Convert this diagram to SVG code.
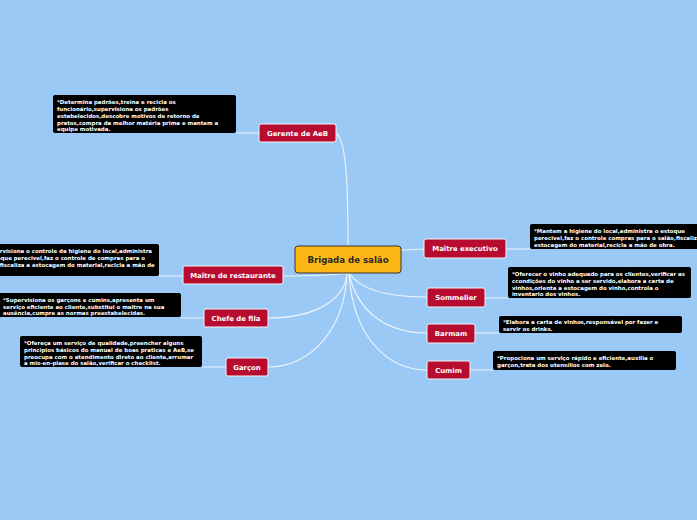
<svg xmlns="http://www.w3.org/2000/svg" width="697" height="520" viewBox="0 0 697 520">
<style>
.node rect{fill:#b70c30;stroke:#f4f4f4;stroke-width:1}
.node text{fill:#fff;font-family:"DejaVu Sans",Verdana,sans-serif;font-weight:bold;font-size:6.9px;text-anchor:middle}
.note rect{fill:#000}
.note text{fill:#fff;font-family:"DejaVu Sans",Verdana,sans-serif;font-weight:bold;font-size:5.45px}
.conn path{fill:none;stroke:#e9f3fc;stroke-width:1.2}
.conn .thin{stroke-width:1}
</style>
<rect width="697" height="520" fill="#9bc9f5"/>
<g class="conn">
<path d="M336,133 C346,140 348,180 348,246"/>
<path d="M401,250 L424,249"/>
<path d="M283,276 C310,276 330,276 347,273"/>
<path d="M347,273 C345,300 315,318 268,318"/>
<path d="M347,273 C345,330 310,367 268,367"/>
<path d="M349,273 C360,290 390,297 427,297"/>
<path d="M349,273 C358,315 390,333 427,333"/>
<path d="M349,273 C353,340 390,370 427,370"/>
<path class="thin" d="M236,133 L259,133"/>
<path class="thin" d="M159,276 L183,276"/>
<path class="thin" d="M181,318 L204,318"/>
<path class="thin" d="M202,367 L226,367"/>
<path class="thin" d="M506,249 L530,249"/>
<path class="thin" d="M485,298 L508,298"/>
<path class="thin" d="M475,333 L499,333"/>
<path class="thin" d="M470,370 L493,370"/>
</g>
<g id="central">
<rect x="295" y="246" width="106" height="27" rx="3" fill="#fdb714" stroke="#333" stroke-width="1"/>
<text x="348" y="263.2" font-family="DejaVu Sans,Verdana,sans-serif" font-weight="bold" font-size="8.6" fill="#2a2a2a" text-anchor="middle">Brigada de salão</text>
</g>
<g id="gerente" class="node"><rect x="259" y="124" width="77" height="18" rx="2"/><text x="297.5" y="135.5">Gerente de AeB</text></g>
<g id="maitre-rest" class="node"><rect x="183" y="266" width="100" height="18" rx="2"/><text x="233" y="277.5">Maître de restaurante</text></g>
<g id="chefe" class="node"><rect x="204" y="309" width="64" height="18" rx="2"/><text x="236" y="320.5">Chefe de fila</text></g>
<g id="garcon" class="node"><rect x="226" y="358" width="42" height="18" rx="2"/><text x="247" y="369.5">Garçon</text></g>
<g id="maitre-exec" class="node"><rect x="424" y="239" width="82" height="19" rx="2"/><text x="465" y="251">Maître executivo</text></g>
<g id="sommelier" class="node"><rect x="427" y="288" width="58" height="19" rx="2"/><text x="456" y="300">Sommelier</text></g>
<g id="barmam" class="node"><rect x="427" y="324" width="48" height="19" rx="2"/><text x="451" y="336">Barmam</text></g>
<g id="cumim" class="node"><rect x="427" y="361" width="43" height="18" rx="2"/><text x="448.5" y="372.5">Cumim</text></g>
<g id="note-gerente" class="note"><rect x="53" y="95" width="183" height="38" rx="2"/>
<text x="57" y="103.5">*Determina padrões,treina e recicla os</text>
<text x="57" y="110.5">funcionário,supervisiona os padrões</text>
<text x="57" y="117.5">estabelecidos,descobre motivos de retorno de</text>
<text x="57" y="124.5">pratos,compra da melhor matéria prima e mantem a</text>
<text x="57" y="131">equipe motivada.</text></g>
<g id="note-maitre-rest" class="note"><rect x="-30" y="244" width="189" height="32" rx="2"/>
<text x="-18.5" y="252.5">*Supervisiona o controle da higiene do local,administra</text>
<text x="-18.5" y="259.5">o estoque perecivel,faz o controle de compras para o</text>
<text x="-18.5" y="266.5">salão,fiscaliza a estocagem do material,recicla a mão de</text>
<text x="-18.5" y="273.5">obra.</text></g>
<g id="note-chefe" class="note"><rect x="-2" y="293" width="183" height="24" rx="2"/>
<text x="3" y="301.5">*Supervisiona os garçons e cumins,apresenta um</text>
<text x="3" y="308.5">serviço eficiente ao cliente,substitui o maitre na sua</text>
<text x="3" y="315">ausência,cumpre as normas preestabelecidas.</text></g>
<g id="note-garcon" class="note"><rect x="20" y="336" width="182" height="31" rx="2"/>
<text x="24" y="344.5">*Ofereça um serviço de qualidade,preencher alguns</text>
<text x="24" y="351.5">princípios básicos do manual de boas praticas e AeB,se</text>
<text x="24" y="358.5">preocupa com o atendimento direto ao cliente,arrumar</text>
<text x="24" y="365">a mis-en-plase do salão,verificar o checklist.</text></g>
<g id="note-maitre-exec" class="note"><rect x="530" y="224" width="180" height="25" rx="2"/>
<text x="534" y="232.5">*Mantem a higiene do local,administra o estoque</text>
<text x="534" y="239.5">perecivel,faz o controle compras para o salão,fiscaliza a</text>
<text x="534" y="246.5">estocagem do material,recicla a mão de obra.</text></g>
<g id="note-sommelier" class="note"><rect x="508" y="267" width="183" height="31" rx="2"/>
<text x="512" y="275.5">*Oferecer o vinho adequado para os clientes,verificar as</text>
<text x="512" y="282.5">ccondições do vinho a ser servido,elabora a carta de</text>
<text x="512" y="289.5">vinhos,orienta a estocagem do vinho,controla o</text>
<text x="512" y="296">inventario dos vinhos.</text></g>
<g id="note-barmam" class="note"><rect x="499" y="316" width="183" height="17" rx="2"/>
<text x="503" y="324">*Elabora a carta de vinhos,responsável por fazer e</text>
<text x="503" y="331">servir os drinks.</text></g>
<g id="note-cumim" class="note"><rect x="493" y="351" width="183" height="19" rx="2"/>
<text x="497" y="359.5">*Propociona um serviço rápido e eficiente,auxilia o</text>
<text x="497" y="366.5">garçon,trata dos utensílios com zelo.</text></g>
</svg>
